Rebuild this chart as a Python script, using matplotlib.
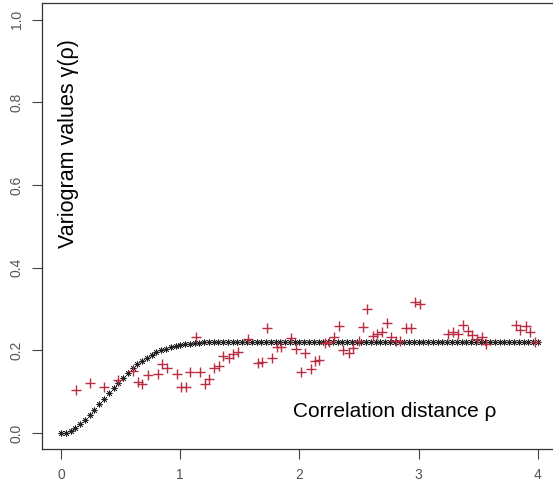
import numpy as np
import matplotlib
matplotlib.use("Agg")
import matplotlib.pyplot as plt

plt.rcParams['font.family'] = ['Liberation Sans', 'DejaVu Sans']

# empirical variogram (red +)
emp_dist = [0.126, 0.243, 0.363, 0.48, 0.606, 0.648, 0.68, 0.732, 0.81, 0.844,
            0.886, 0.97, 1.01, 1.048, 1.081, 1.129, 1.165, 1.207, 1.243, 1.282,
            1.327, 1.361, 1.408, 1.444, 1.481, 1.57, 1.649, 1.688, 1.729, 1.766,
            1.808, 1.844, 1.928, 1.97, 2.009, 2.045, 2.093, 2.129, 2.165, 2.213,
            2.249, 2.291, 2.33, 2.366, 2.414, 2.45, 2.498, 2.534, 2.571, 2.613,
            2.651, 2.696, 2.735, 2.772, 2.814, 2.847, 2.898, 2.934, 2.973, 3.015,
            3.247, 3.288, 3.33, 3.372, 3.414, 3.451, 3.493, 3.535, 3.568, 3.814,
            3.853, 3.898, 3.937, 3.973]
emp_gamma = [0.104, 0.120, 0.112, 0.128, 0.150, 0.124, 0.118, 0.139, 0.143, 0.167,
             0.158, 0.142, 0.111, 0.111, 0.147, 0.232, 0.147, 0.118, 0.130, 0.157,
             0.163, 0.187, 0.181, 0.191, 0.195, 0.227, 0.169, 0.171, 0.253, 0.181,
             0.207, 0.209, 0.229, 0.203, 0.147, 0.193, 0.154, 0.175, 0.177, 0.217,
             0.220, 0.231, 0.259, 0.201, 0.193, 0.205, 0.223, 0.257, 0.300, 0.235,
             0.239, 0.245, 0.266, 0.233, 0.223, 0.223, 0.255, 0.255, 0.316, 0.311,
             0.240, 0.244, 0.240, 0.261, 0.247, 0.236, 0.227, 0.233, 0.215, 0.261,
             0.249, 0.259, 0.243, 0.220]

# fitted model (black asterisks), lag grid 0..4 step 0.04
model_dist = np.round(np.arange(0, 4.001, 0.04), 2)
model_gamma = [0.000, 0.001, 0.005, 0.012, 0.021, 0.031, 0.043, 0.056, 0.069, 0.083,
               0.096, 0.109, 0.122, 0.134, 0.145, 0.156, 0.166, 0.174, 0.182, 0.189,
               0.195, 0.200, 0.204, 0.208, 0.211, 0.213, 0.215, 0.216, 0.217, 0.218,
               0.219, 0.219, 0.220, 0.220, 0.220, 0.220, 0.220, 0.220, 0.220, 0.220,
               0.220, 0.220, 0.220, 0.220, 0.220, 0.220, 0.220, 0.220, 0.220, 0.220,
               0.220, 0.220, 0.220, 0.220, 0.220, 0.220, 0.220, 0.220, 0.220, 0.220,
               0.220, 0.220, 0.220, 0.220, 0.220, 0.220, 0.220, 0.220, 0.220, 0.220,
               0.220, 0.220, 0.220, 0.220, 0.220, 0.220, 0.220, 0.220, 0.220, 0.220,
               0.220, 0.220, 0.220, 0.220, 0.220, 0.220, 0.220, 0.220, 0.220, 0.220,
               0.220, 0.220, 0.220, 0.220, 0.220, 0.220, 0.220, 0.220, 0.220, 0.220,
               0.220]

x_ticks = [0, 1, 2, 3, 4]
y_ticks = [0.0, 0.2, 0.4, 0.6, 0.8, 1.0]

fig = plt.figure(figsize=(5.53, 4.83), dpi=100)
ax = fig.add_axes([0.076, 0.0694, 0.931, 0.9244])

ax.plot(model_dist, model_gamma, linestyle='none', marker=(8, 2, 0),
        markersize=4.3, markeredgewidth=0.55, color='#222222', zorder=2)
ax.plot(emp_dist, emp_gamma, linestyle='none', marker='+',
        markersize=7, markeredgewidth=1.0, color='#bc2c40', zorder=3)

ax.set_xlim(-0.16, 4.16)
ax.set_ylim(-0.04, 1.04)
ax.set_xticks(x_ticks)
ax.set_xticklabels([str(t) for t in x_ticks])
ax.set_yticks(y_ticks)
ax.set_yticklabels([f"{t:.1f}" for t in y_ticks], rotation=90, va='center')

ax.tick_params(direction='out', length=7, width=0.8, colors='#444444',
               labelcolor='#555555', labelsize=10, pad=6)
for s in ax.spines.values():
    s.set_color('#333333')
    s.set_linewidth(0.9)

ax.text(2.8, 0.051, "Correlation distance ρ", fontsize=15, ha='center', va='center')
ax.text(0.06, 0.70, "Variogram values γ(ρ)", fontsize=15.5, rotation=90,
        ha='center', va='center')

fig.savefig("out.png", dpi=100)
